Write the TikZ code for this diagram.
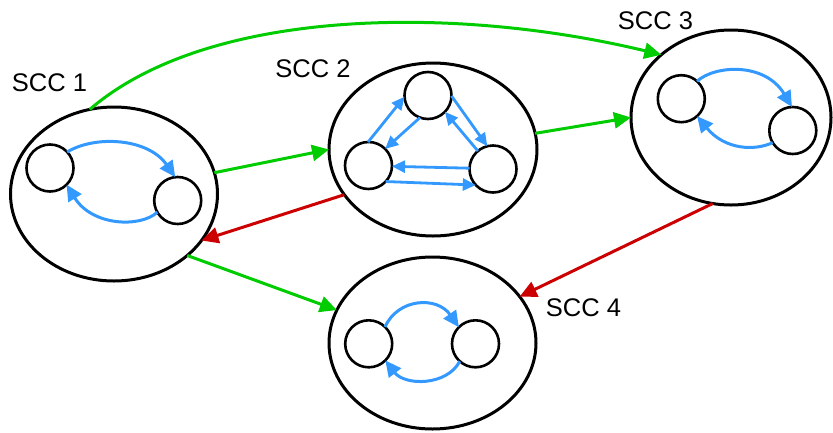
\documentclass[tikz,border=0pt]{standalone}
\usepackage{fontspec}
\setmainfont{Liberation Sans}
\usetikzlibrary{arrows.meta,shapes.geometric}
\definecolor{cgreen}{HTML}{00CC00}
\definecolor{cred}{HTML}{CC0000}
\definecolor{cblue}{HTML}{3399FF}
\begin{document}
\begin{tikzpicture}[x=1pt,y=-1pt,
  scc/.style={ellipse,draw,line width=3pt,inner sep=0pt,outer sep=0pt},
  vtx/.style={circle,draw,line width=2.6pt,minimum size=47pt,inner sep=0pt,outer sep=0pt},
  lbl/.style={anchor=base,inner sep=0pt,font=\fontsize{25.5}{30}\selectfont},
  inarc/.style={draw=cblue,line width=3pt,-{Triangle[length=16pt,width=15pt]}},
  triarc/.style={draw=cblue,line width=2.8pt,-{Triangle[length=13pt,width=12pt]}},
  gedge/.style={draw=cgreen,line width=3pt,-{Triangle[length=17pt,width=16pt]}},
  redge/.style={draw=cred,line width=3pt,-{Triangle[length=17pt,width=16pt]}}]
\useasboundingbox (0,0) rectangle (833,432);
% components
\node[scc,minimum width=207pt,minimum height=174pt] (s1) at (114,194) {};
\node[scc,minimum width=208pt,minimum height=173pt] (s2) at (433,149.5) {};
\node[scc,minimum width=200pt,minimum height=175pt] (s3) at (731,117.5) {};
\node[scc,minimum width=207pt,minimum height=172pt] (s4) at (432.5,343) {};
% labels
\node[lbl] (t1) at (49.5,91) {SCC 1};
\node[lbl] (t2) at (313,77) {SCC 2};
\node[lbl] (t3) at (655.5,29) {SCC 3};
\node[lbl] (t4) at (583.5,316) {SCC 4};
% vertices
\node[vtx] (a1) at (50,168) {};
\node[vtx] (b1) at (177.7,200.5) {};
\node[vtx] (l2) at (368.5,165.5) {};
\node[vtx] (t2v) at (428,95.5) {};
\node[vtx] (r2) at (493,169) {};
\node[vtx] (a3) at (681.3,98.7) {};
\node[vtx] (b3) at (792.8,130.5) {};
\node[vtx] (a4) at (368.7,343.8) {};
\node[vtx] (b4) at (475.5,343.8) {};
% SCC 1 inner arcs
\draw[inarc] (a1.43) .. controls (95,135) and (148,138) .. (b1.96);
\draw[inarc] (b1.210) .. controls (140,228) and (92,226) .. (a1.315);
% SCC 2 inner edges
\draw[triarc] (l2.91) -- (t2v.183);
\draw[triarc] (t2v.250) -- (l2.45);
\draw[triarc] (t2v.359) -- (r2.104);
\draw[triarc] (r2.130) -- (t2v.316);
\draw[triarc] (r2.178) -- (l2.358);
\draw[triarc] (l2.317) -- (r2.223);
% SCC 3 inner arcs
\draw[inarc] (a3.48) .. controls (715,65) and (765,62) .. (b3.92);
\draw[inarc] (b3.211) .. controls (755,151) and (725,150) .. (a3.312);
% SCC 4 inner arcs
\draw[inarc] (a4.46) .. controls (398,298) and (437,296) .. (b4.135);
\draw[inarc] (b4.228) .. controls (447,386) and (405,386) .. (a4.315);
% edges between components
\draw[gedge] (s1.106) .. controls (210,6) and (460,6) .. (s3.138);
\draw[gedge] (s1.12) -- (s2.180);
\draw[redge] (s2.207) -- (s1.332);
\draw[gedge] (s2.9) -- (s3.180);
\draw[gedge] (s1.320) -- (s4.161);
\draw[redge] (s3.258) -- (s4.28);
\end{tikzpicture}
\end{document}
